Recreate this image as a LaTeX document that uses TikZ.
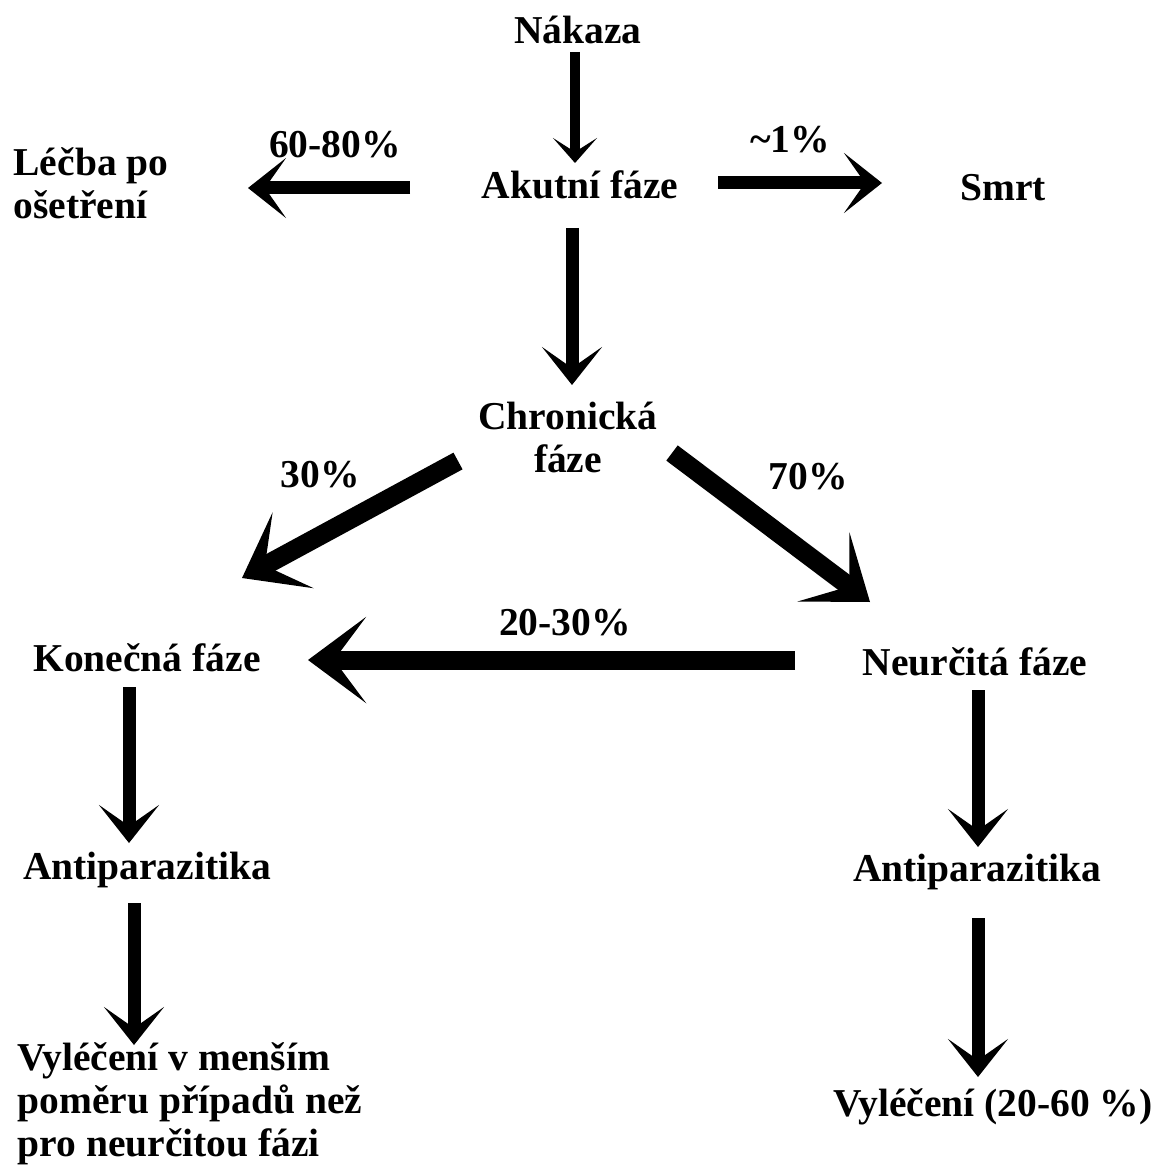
\documentclass[tikz,border=0pt]{standalone}
\usepackage{fontspec}
\setmainfont{Liberation Serif}
\usetikzlibrary{arrows.meta}
\tikzset{
	txt/.style={font=\bfseries\fontsize{19.75pt}{21.5pt}\selectfont, inner sep=0pt},
	thinarr/.style={line width=5pt, -{Stealth[length=12.5pt, width=22pt, inset=7pt]}},
	midarr/.style={line width=6.5pt, -{Stealth[length=19pt, width=30pt, inset=10.5pt]}},
	thickarr/.style={line width=9.5pt, -{Stealth[length=29pt, width=43pt, inset=16pt]}}
}

\begin{document}
\begin{tikzpicture}[x=0.5pt, y=-0.5pt]
	\useasboundingbox (0,0) rectangle (1160,1166);
	
	\node[txt] (nakaza) at (578,30) {Nákaza};
	\node[txt] (akutni) at (580,185) {Akutní fáze};
	\node[txt, align=left] (lecba) at (91,183) {Léčba po\\ošetření};
	\node[txt] (smrt) at (1003,188) {Smrt};
	\node[txt, align=center] (chronicka) at (568,437) {Chronická\\fáze};
	\node[txt] (konecna) at (147,658) {Konečná fáze};
	\node[txt] (neurcita) at (975,662) {Neurčitá fáze};
	\node[txt] (antiL) at (147,870) {Antiparazitika};
	\node[txt] (antiR) at (977,872) {Antiparazitika};
	\node[txt, align=left] (vylL) at (190,1104) {Vyléčení v menším\\poměru případů než\\pro neurčitou fázi};
	\node[txt] (vylR) at (993,1107) {Vyléčení (20-60 \%)};
	
	\node[txt] (p1) at (790,140) {\textasciitilde1\%};
	\node[txt] (p6080) at (335,145) {60-80\%};
	\node[txt] (p30) at (320,475) {30\%};
	\node[txt] (p70) at (808,477) {70\%};
	\node[txt] (p2030) at (565,623) {20-30\%};
	
	\draw[thinarr] ([shift={(-3,22)}]nakaza.center) -- ([shift={(-5,-22)}]akutni.center);
	\draw[midarr] ([shift={(-170,3)}]akutni.center) -- ([shift={(157,5)}]lecba.center);
	\draw[midarr] ([shift={(138,-2)}]akutni.center) -- ([shift={(-121,-5)}]smrt.center);
	\draw[midarr] ([shift={(-8,43)}]akutni.center) -- ([shift={(4,-52)}]chronicka.center);
	\draw[thickarr] ([shift={(-110,24)}]chronicka.center) -- ([shift={(95,-80)}]konecna.center);
	\draw[thickarr] ([shift={(104,16)}]chronicka.center) -- ([shift={(-105,-60)}]neurcita.center);
	\draw[thickarr] ([shift={(-180,-2)}]neurcita.center) -- ([shift={(161,2)}]konecna.center);
	\draw[midarr] ([shift={(-18,29)}]konecna.center) -- ([shift={(-18,-27)}]antiL.center);
	\draw[midarr] ([shift={(-13,33)}]antiL.center) -- ([shift={(-56,-59)}]vylL.center);
	\draw[midarr] ([shift={(3,28)}]neurcita.center) -- ([shift={(1,-25)}]antiR.center);
	\draw[midarr] ([shift={(1,46)}]antiR.center) -- ([shift={(-15,-30)}]vylR.center);
\end{tikzpicture}
\end{document}
